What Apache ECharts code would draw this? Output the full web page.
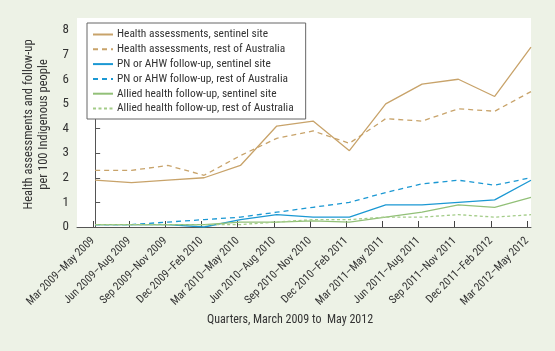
<!DOCTYPE html>
<html>
<head>
<meta charset="utf-8">
<script src="https://cdn.jsdelivr.net/npm/echarts@6/dist/echarts.min.js"></script>
<style>
	html, body { margin: 0; padding: 0; background: #fff; }
	#chart { width: 555px; height: 351px; }
</style>
</head>
<body>
<div id="chart"></div>
<script>
	// quarters on the x axis
	const quarters = ['Mar 2009\u2013May 2009', 'Jun 2009\u2013Aug 2009', 'Sep 2009\u2013Nov 2009', 'Dec 2009\u2013Feb 2010',
		'Mar 2010\u2013May 2010', 'Jun 2010\u2013Aug 2010', 'Sep 2010\u2013Nov 2010', 'Dec 2010\u2013Feb 2011',
		'Mar 2011\u2013May 2011', 'Jun 2011\u2013Aug 2011', 'Sep 2011\u2013Nov 2011', 'Dec 2011\u2013Feb 2012',
		'Mar 2012\u2013May 2012']

	// rates per 100 Indigenous people
	const healthSentinel = [1.9, 1.8, 1.9, 2.0, 2.5, 4.1, 4.3, 3.1, 5.0, 5.8, 6.0, 5.3, 7.3]
	const healthRest = [2.3, 2.3, 2.5, 2.1, 2.9, 3.6, 3.9, 3.4, 4.4, 4.3, 4.8, 4.7, 5.5]
	const pnSentinel = [0.1, 0.1, 0.1, 0.0, 0.3, 0.5, 0.4, 0.4, 0.9, 0.9, 1.0, 1.1, 1.9]
	const pnRest = [0.1, 0.1, 0.2, 0.3, 0.4, 0.6, 0.8, 1.0, 1.4, 1.75, 1.9, 1.7, 2.0]
	const alliedSentinel = [0.1, 0.1, 0.1, 0.1, 0.2, 0.2, 0.25, 0.2, 0.4, 0.6, 0.9, 0.8, 1.2]
	const alliedRest = [0.1, 0.1, 0.1, 0.1, 0.1, 0.2, 0.3, 0.3, 0.4, 0.4, 0.5, 0.4, 0.5]

	const yTicks = [0, 1, 2, 3, 4, 5, 6, 7, 8]

	const FONT = '"Roboto Condensed", "DejaVu Sans Condensed", sans-serif'
	const TAN = '#c8a36a'
	const BLUE = '#1b98d3'
	const GREEN = '#92c078'
	const GREEN_LIGHT = '#a3cc88'

	function pts(arr) {
		return arr.map((v, i) => [i, v])
	}

	function line(name, arr, color, type) {
		return {
			name: name,
			type: 'line',
			xAxisIndex: 0,
			yAxisIndex: 0,
			data: pts(arr),
			symbol: 'none',
			lineStyle: { color: color, width: 1.3, type: type },
			itemStyle: { color: color },
			emphasis: { disabled: true },
			z: 3
		}
	}

	const chart = echarts.init(document.getElementById('chart'))

	const option = {
		backgroundColor: '#edf2e6',
		animation: false,
		textStyle: { fontFamily: FONT, color: '#333' },
		graphic: [{
			type: 'rect',
			shape: { x: 77, y: 18, width: 454, height: 209 },
			style: { fill: '#fff' },
			z: -10,
			silent: true
		}],
		grid: [
			// data grid
			{ left: 77, right: 24, top: 30, bottom: 124 },
			// grid for the quarter labels and ticks
			{ left: 93, right: 28, top: 30, bottom: 124 }
		],
		legend: {
			orient: 'vertical',
			left: 87,
			top: 23,
			padding: [6, 12, 5, 5],
			itemGap: 3.8,
			itemWidth: 20,
			itemHeight: 12,
			borderColor: '#666',
			borderWidth: 1,
			backgroundColor: '#fff',
			itemStyle: { opacity: 0 },
			textStyle: { fontFamily: FONT, fontSize: 11.4, color: '#333', padding: [0, 0, 0, -1] },
			data: ['Health assessments, sentinel site', 'Health assessments, rest of Australia',
				'PN or AHW follow-up, sentinel site', 'PN or AHW follow-up, rest of Australia',
				'Allied health follow-up, sentinel site', 'Allied health follow-up, rest of Australia']
		},
		xAxis: [{
			type: 'value',
			gridIndex: 0,
			min: -0.5,
			max: 12,
			axisLine: { show: true, lineStyle: { color: '#555', width: 1 } },
			axisTick: { show: false },
			axisLabel: { show: false },
			splitLine: { show: false }
		}, {
			type: 'category',
			gridIndex: 1,
			data: quarters,
			boundaryGap: false,
			axisLine: { show: false },
			axisTick: { show: true, inside: true, length: 6, lineStyle: { color: '#444' } },
			axisLabel: { rotate: 45, margin: 12, fontSize: 11.2, color: '#333', fontFamily: FONT, interval: 0 },
			splitLine: { show: false },
			name: 'Quarters, March 2009 to  May 2012',
			nameLocation: 'middle',
			nameGap: 86,
			nameTextStyle: { fontFamily: FONT, fontSize: 12, color: '#333', padding: [0, 40, 0, 0] }
		}],
		yAxis: [{
			type: 'value',
			gridIndex: 0,
			min: yTicks[0],
			max: yTicks[yTicks.length - 1],
			interval: 1,
			axisLine: { show: true, lineStyle: { color: '#555', width: 1 } },
			axisTick: { show: true, inside: true, length: 5, lineStyle: { color: '#555' } },
			axisLabel: { fontSize: 13, color: '#333', margin: 8 },
			splitLine: { show: false },
			name: 'Health assessments and follow-up\nper 100 Indigenous people',
			nameLocation: 'middle',
			nameRotate: 90,
			nameGap: 25,
			nameTextStyle: { fontFamily: FONT, fontSize: 12.5, color: '#333', lineHeight: 15, padding: [0, 0, 0, 8] }
		}, {
			type: 'value',
			gridIndex: 1,
			show: false
		}],
		series: [
			line('Health assessments, sentinel site', healthSentinel, TAN, 'solid'),
			line('Health assessments, rest of Australia', healthRest, TAN, [5, 4]),
			line('PN or AHW follow-up, sentinel site', pnSentinel, BLUE, 'solid'),
			line('PN or AHW follow-up, rest of Australia', pnRest, BLUE, [5, 4]),
			line('Allied health follow-up, sentinel site', alliedSentinel, GREEN, 'solid'),
			line('Allied health follow-up, rest of Australia', alliedRest, GREEN_LIGHT, [3, 2.5])
		]
	}

	chart.setOption(option)
</script>
</body>
</html>
